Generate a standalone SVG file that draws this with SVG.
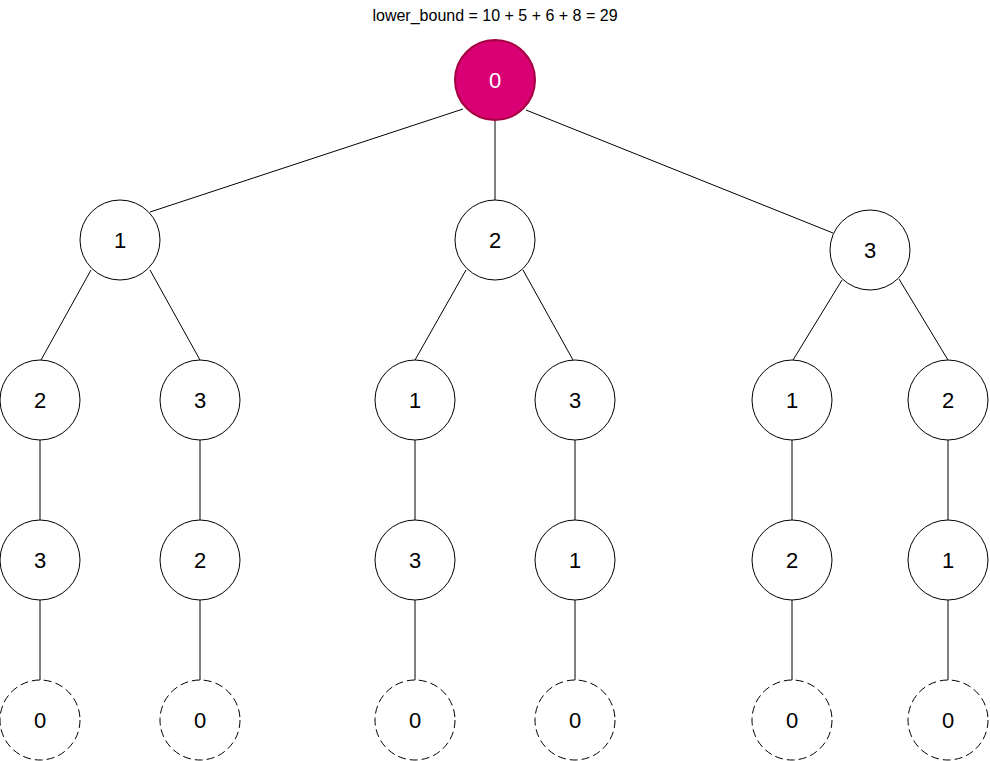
<svg xmlns="http://www.w3.org/2000/svg" width="990" height="761" viewBox="0 0 990 761">
<style>
.n{fill:#fff;stroke:#000;stroke-width:1}
.d{fill:#fff;stroke:#000;stroke-width:1;stroke-dasharray:8 4}
.r{fill:#d80073;stroke:#a50040;stroke-width:2}
.e{stroke:#000;stroke-width:1;fill:none}
</style>
<rect width="990" height="761" fill="#fff"/>
<text x="495" y="21" font-family="Liberation Sans,Arial,sans-serif" font-size="16" text-anchor="middle" fill="#000">lower_bound = 10 + 5 + 6 + 8 = 29</text>
<g id="edges">
<line class="e" x1="463" y1="109" x2="150" y2="212"/>
<line class="e" x1="495" y1="121" x2="495" y2="200"/>
<line class="e" x1="526" y1="110" x2="833" y2="233"/>
<line class="e" x1="91" y1="270" x2="41" y2="360"/>
<line class="e" x1="150" y1="270" x2="200" y2="360"/>
<line class="e" x1="466" y1="270" x2="415" y2="360"/>
<line class="e" x1="523" y1="270" x2="573" y2="360"/>
<line class="e" x1="842" y1="280" x2="793" y2="360"/>
<line class="e" x1="899" y1="279" x2="948" y2="360"/>
<line class="e" x1="40" y1="440" x2="40" y2="520"/>
<line class="e" x1="200" y1="440" x2="200" y2="520"/>
<line class="e" x1="415" y1="440" x2="415" y2="520"/>
<line class="e" x1="575" y1="440" x2="575" y2="520"/>
<line class="e" x1="792" y1="440" x2="792" y2="520"/>
<line class="e" x1="948" y1="440" x2="948" y2="520"/>
<line class="e" x1="40" y1="600" x2="40" y2="680"/>
<line class="e" x1="200" y1="600" x2="200" y2="680"/>
<line class="e" x1="415" y1="600" x2="415" y2="680"/>
<line class="e" x1="575" y1="600" x2="575" y2="680"/>
<line class="e" x1="792" y1="600" x2="792" y2="680"/>
<line class="e" x1="948" y1="600" x2="948" y2="680"/>
</g>
<g font-family="Liberation Sans,Arial,sans-serif" font-size="22" text-anchor="middle" fill="#000">
<g id="root"><circle class="r" cx="495" cy="80" r="40"/><text x="495" y="88" fill="#fff">0</text></g>
<g id="n1"><circle class="n" cx="120" cy="240" r="40"/><text x="120" y="248">1</text></g>
<g id="n2"><circle class="n" cx="495" cy="240" r="40"/><text x="495" y="248">2</text></g>
<g id="n3"><circle class="n" cx="870" cy="250" r="40"/><text x="870" y="258">3</text></g>
<g id="n12"><circle class="n" cx="40" cy="400" r="40"/><text x="40" y="408">2</text></g>
<g id="n13"><circle class="n" cx="200" cy="400" r="40"/><text x="200" y="408">3</text></g>
<g id="n21"><circle class="n" cx="415" cy="400" r="40"/><text x="415" y="408">1</text></g>
<g id="n23"><circle class="n" cx="575" cy="400" r="40"/><text x="575" y="408">3</text></g>
<g id="n31"><circle class="n" cx="792" cy="400" r="40"/><text x="792" y="408">1</text></g>
<g id="n32"><circle class="n" cx="948" cy="400" r="40"/><text x="948" y="408">2</text></g>
<g id="n123"><circle class="n" cx="40" cy="560" r="40"/><text x="40" y="568">3</text></g>
<g id="n132"><circle class="n" cx="200" cy="560" r="40"/><text x="200" y="568">2</text></g>
<g id="n213"><circle class="n" cx="415" cy="560" r="40"/><text x="415" y="568">3</text></g>
<g id="n231"><circle class="n" cx="575" cy="560" r="40"/><text x="575" y="568">1</text></g>
<g id="n312"><circle class="n" cx="792" cy="560" r="40"/><text x="792" y="568">2</text></g>
<g id="n321"><circle class="n" cx="948" cy="560" r="40"/><text x="948" y="568">1</text></g>
<g id="l1"><circle class="d" cx="40" cy="720" r="40"/><text x="40" y="728">0</text></g>
<g id="l2"><circle class="d" cx="200" cy="720" r="40"/><text x="200" y="728">0</text></g>
<g id="l3"><circle class="d" cx="415" cy="720" r="40"/><text x="415" y="728">0</text></g>
<g id="l4"><circle class="d" cx="575" cy="720" r="40"/><text x="575" y="728">0</text></g>
<g id="l5"><circle class="d" cx="792" cy="720" r="40"/><text x="792" y="728">0</text></g>
<g id="l6"><circle class="d" cx="948" cy="720" r="40"/><text x="948" y="728">0</text></g>
</g>
</svg>
